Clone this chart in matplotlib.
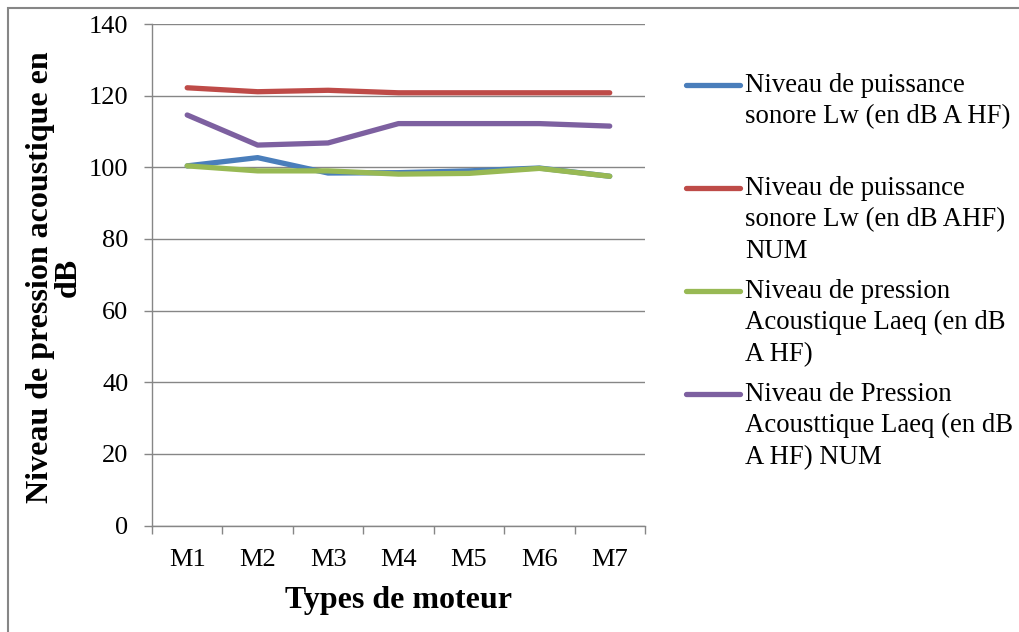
import matplotlib
matplotlib.use("Agg")
import matplotlib.pyplot as plt
from matplotlib.lines import Line2D
from matplotlib.patches import Rectangle

# data
moteurs = ["M1", "M2", "M3", "M4", "M5", "M6", "M7"]
lw_hf = [100.4, 102.7, 98.4, 98.5, 99.0, 99.8, 97.5]
lw_hf_num = [122.2, 121.1, 121.5, 120.8, 120.8, 120.8, 120.8]
laeq_hf = [100.4, 99.0, 99.0, 98.1, 98.3, 99.7, 97.5]
laeq_hf_num = [114.6, 106.2, 106.8, 112.2, 112.2, 112.2, 111.5]

series = [lw_hf, lw_hf_num, laeq_hf, laeq_hf_num]
labels = [
    "Niveau de puissance\nsonore Lw (en dB A HF)",
    "Niveau de puissance\nsonore Lw (en dB AHF)\nNUM",
    "Niveau de pression\nAcoustique Laeq (en dB\nA HF)",
    "Niveau de Pression\nAcousttique Laeq (en dB\nA HF) NUM",
]
colors = ["#4A7EBB", "#BE4B48", "#98B954", "#7D60A0"]

plt.rcParams["font.family"] = ["Liberation Serif", "DejaVu Serif"]
grey = "#868686"

fig = plt.figure(figsize=(10.2, 6.32), dpi=100)
ax = fig.add_axes([0.149, 0.1685, 0.4833, 0.7935])

x = list(range(len(moteurs)))
for vals, c in zip(series, colors):
    ax.plot(x, vals, color=c, linewidth=3.8, solid_capstyle="round", zorder=3)

ax.set_xlim(-0.5, len(moteurs) - 0.5)
ax.set_ylim(0, 140)
ax.set_yticks(range(0, 141, 20))
ax.yaxis.grid(True, color=grey, linewidth=1.0)
ax.set_axisbelow(True)
ax.set_xticks(x)
ax.set_xticklabels(moteurs, fontsize=19)
ax.set_xticks([i - 0.5 for i in range(len(moteurs) + 1)], minor=True)
ax.tick_params(axis="x", which="major", length=0, pad=17)
ax.tick_params(axis="x", which="minor", length=6, color=grey, width=1.0)
ax.tick_params(axis="y", length=6, color=grey, width=1.0, labelsize=19, pad=11)

for s in ["top", "right"]:
    ax.spines[s].set_visible(False)
for s in ["left", "bottom"]:
    ax.spines[s].set_color(grey)
    ax.spines[s].set_linewidth(1.0)

ax.set_xlabel("Types de moteur", fontsize=23, fontweight="bold", labelpad=11)

W, H = 1020, 632
fig.text(54 / W, 1 - 277 / H, "Niveau de pression acoustique en\ndB",
         rotation=90, ha="center", va="center", fontsize=23,
         fontweight="bold", linespacing=0.95)

# legend drawn by hand, Excel style
ys = [85, 188, 291, 394]
for yy, lab, c in zip(ys, labels, colors):
    fig.add_artist(Line2D([686 / W, 740 / W], [1 - yy / H, 1 - yy / H],
                          color=c, linewidth=3.8, solid_capstyle="round"))
    fig.text(745 / W, 1 - (yy - 12) / H, lab, fontsize=19.3, va="top",
             ha="left", linespacing=1.33)

# outer chart frame
fig.add_artist(Rectangle((8 / W, -0.1), 1.2, 1 - 8 / H + 0.1,
                         transform=fig.transFigure, fill=False,
                         edgecolor=grey, linewidth=1.5))

fig.savefig("out.png", dpi=100)
